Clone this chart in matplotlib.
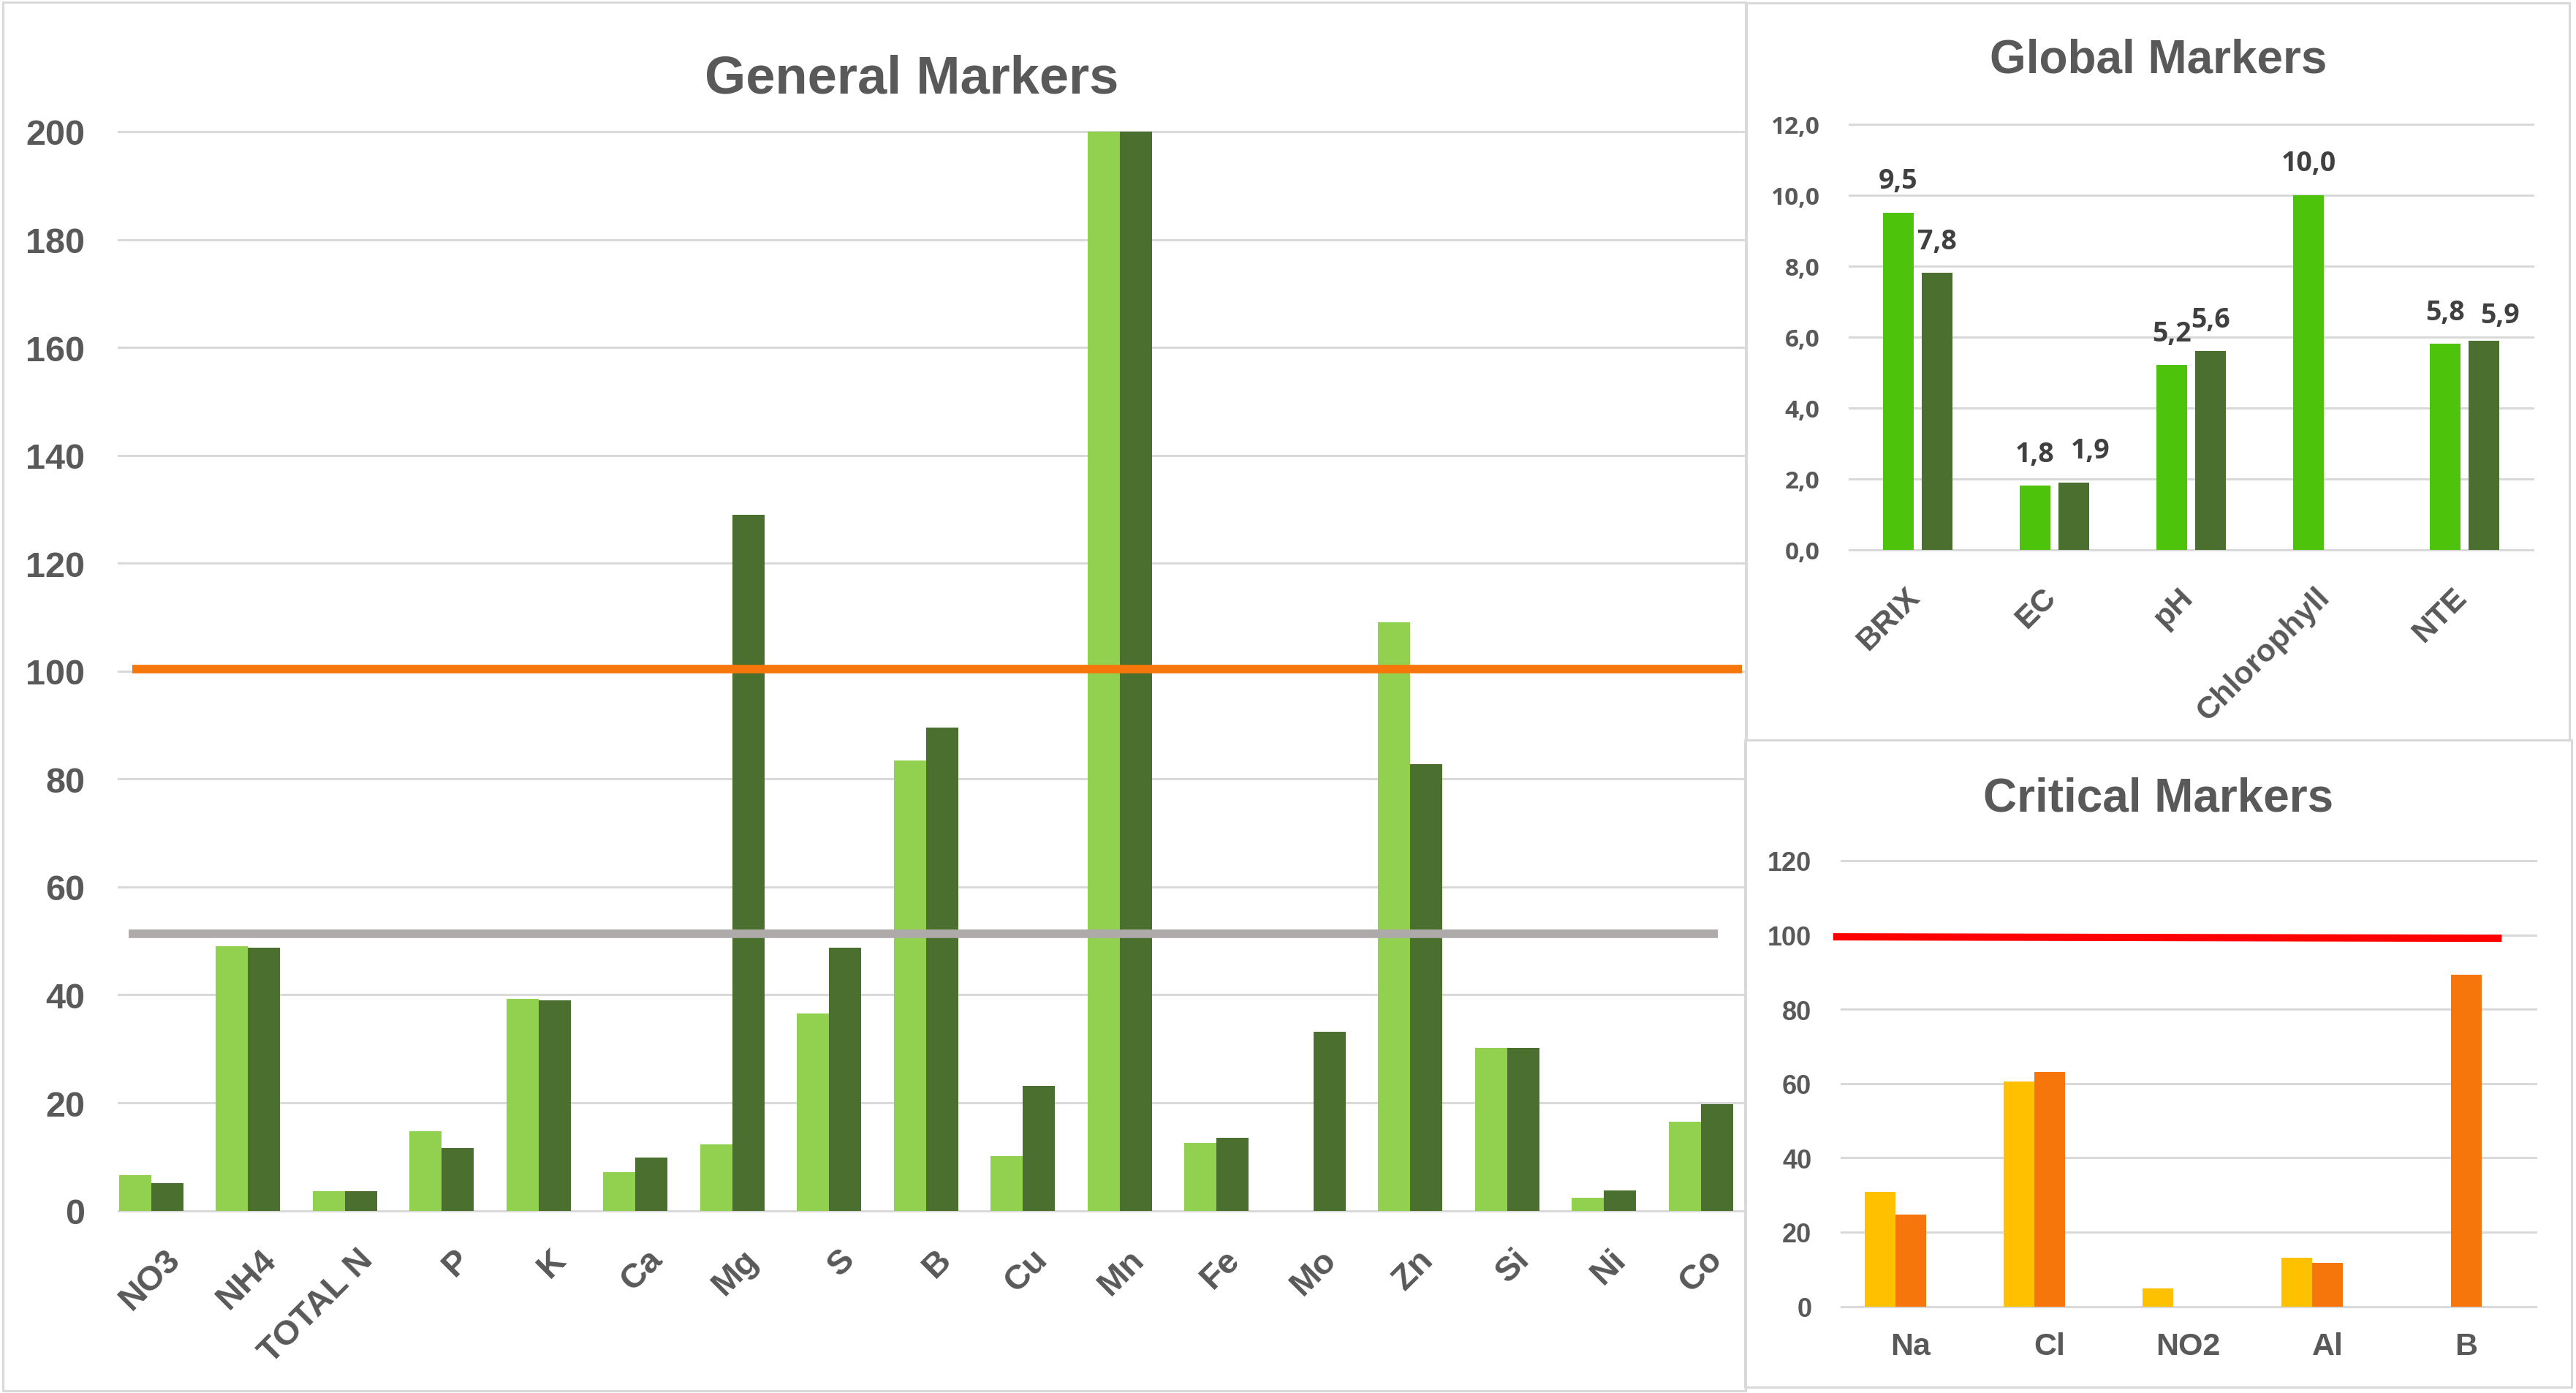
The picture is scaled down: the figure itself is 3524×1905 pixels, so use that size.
import numpy as np
import matplotlib.pyplot as plt
from matplotlib.patches import Rectangle

plt.rcParams['font.family'] = ['Liberation Sans', 'DejaVu Sans']
plt.rcParams['font.weight'] = 'bold'

W, H = 3524, 1906

# General Markers data
gen_cats = ["NO3", "NH4", "TOTAL N", "P", "K", "Ca", "Mg", "S", "B", "Cu",
            "Mn", "Fe", "Mo", "Zn", "Si", "Ni", "Co"]
gen_a = [6.6, 49.0, 3.6, 14.7, 39.3, 7.1, 12.3, 36.6, 83.4, 10.1,
         230, 12.5, 0, 109.0, 30.2, 2.4, 16.5]
gen_b = [5.1, 48.7, 3.6, 11.6, 39.0, 9.8, 129.0, 48.7, 89.6, 23.1,
         230, 13.5, 33.2, 82.7, 30.2, 3.8, 19.8]
gen_upper = 100.4
gen_lower = 51.3
gen_ticks = [0, 20, 40, 60, 80, 100, 120, 140, 160, 180, 200]

# Global Markers data
glob_cats = ["BRIX", "EC", "pH", "Chlorophyll", "NTE"]
glob_a = [9.5, 1.8, 5.2, 10.0, 5.8]
glob_b = [7.8, 1.9, 5.6, np.nan, 5.9]
glob_ticks = [0, 2, 4, 6, 8, 10, 12]

# Critical Markers data
crit_cats = ["Na", "Cl", "NO2", "Al", "B"]
crit_a = [30.8, 60.5, 4.8, 13.1, 0]
crit_b = [24.7, 63.1, 0, 11.7, 89.2]
crit_limit = [99.5, 99.1]
crit_ticks = [0, 20, 40, 60, 80, 100, 120]

TXT = '#595959'
LBL = '#404040'
GRID = '#D9D9D9'
LIGHT = '#92D050'
DARK = '#4A6F2F'
BRIGHT = '#4DC30B'
YEL = '#FFC000'
ORG = '#F7760B'
NUMFONT = ['Open Sans', 'DejaVu Sans']


def px_axes(fig, l, t, r, b):
    return fig.add_axes([l / W, 1 - b / H, (r - l) / W, (b - t) / H])


def frame(fig, l, t, r, b):
    fig.patches.append(Rectangle((l / W, 1 - b / H), (r - l) / W, (b - t) / H,
                                 transform=fig.transFigure, fill=False,
                                 edgecolor=GRID, lw=2.2))


def style(ax, ticks):
    for s in ax.spines.values():
        s.set_visible(False)
    ax.set_yticks(ticks)
    for t in ticks:
        ax.axhline(t, color=GRID, lw=2.2, zorder=0, clip_on=False)
    ax.tick_params(length=0)
    ax.set_xticks([])


fig = plt.figure(figsize=(W / 100, H / 100), dpi=100)
frame(fig, 4, 4, 2388, 1903)
frame(fig, 2389, 5, 3515, 1013)
frame(fig, 2387, 1013, 3518, 1898)

# ---- General Markers ----
ax = px_axes(fig, 162, 181, 2387, 1656.6)
x = np.arange(len(gen_cats))
ax.bar(x - 0.166, gen_a, 0.332, color=LIGHT, zorder=2)
ax.bar(x + 0.166, gen_b, 0.332, color=DARK, zorder=2)
ax.set_xlim(-0.337, 16.456)
ax.set_ylim(0, 200)
style(ax, gen_ticks)
ax.plot([-0.195, 16.426], [gen_upper, gen_upper], color=ORG, lw=8.4,
        solid_capstyle='butt', zorder=3)
ax.plot([-0.231, 16.18], [gen_lower, gen_lower], color='#AEAAAA', lw=8.4,
        solid_capstyle='butt', zorder=3)
ax.set_yticklabels([str(t) for t in gen_ticks], fontsize=35, color=TXT)
ax.tick_params(axis='y', pad=33)
for i, c in enumerate(gen_cats):
    ax.annotate(c, (0.25 + 0.995 * i, 0), xycoords=('data', 'axes fraction'),
                xytext=(0, -43), textcoords='offset points', rotation=45,
                rotation_mode='anchor', ha='right', va='center',
                fontsize=34, color=TXT)
fig.text(1247 / W, 1 - 127 / H, "General Markers", ha='center', va='baseline',
         fontsize=52, color=TXT)

# ---- Global Markers ----
ax = px_axes(fig, 2530, 170.5, 3465, 752.8)
x = np.arange(len(glob_cats))
ax.bar(x - 0.142, glob_a, 0.22, color=BRIGHT, zorder=2)
ax.bar(x + 0.142, glob_b, 0.22, color=DARK, zorder=2)
ax.set_xlim(-0.5, 4.5)
ax.set_ylim(0, 12)
style(ax, glob_ticks)
ax.set_yticklabels([f"{t:.1f}".replace('.', ',') for t in glob_ticks],
                   fontsize=24, color=TXT, family=NUMFONT, fontweight='bold')
ax.tick_params(axis='y', pad=29)
shift = {(1, 1): (16, 24), (4, 1): (16, 18)}
for s, vals in enumerate([glob_a, glob_b]):
    for i, v in enumerate(vals):
        if np.isnan(v):
            continue
        dx, dy = shift.get((i, s), (0, 24))
        ax.annotate(f"{v:.1f}".replace('.', ','), (i + (s * 2 - 1) * 0.142, v),
                    xytext=(dx, dy), textcoords='offset points', ha='center',
                    va='baseline', fontsize=27, color=LBL, family=NUMFONT,
                    fontweight='bold')
for i, c in enumerate(glob_cats):
    ax.annotate(c, (i - 0.02, 0), xycoords=('data', 'axes fraction'),
                xytext=(0, -42), textcoords='offset points', rotation=45,
                rotation_mode='anchor', ha='right', va='center',
                fontsize=31, color=TXT)
fig.text(2953 / W, 1 - 99 / H, "Global Markers", ha='center', va='baseline',
         fontsize=46, color=TXT)

# ---- Critical Markers ----
ax = px_axes(fig, 2518.6, 1178, 3469, 1787.5)
x = np.arange(len(crit_cats))
ax.bar(x - 0.221, crit_a, 0.221, color=YEL, zorder=2)
ax.bar(x, crit_b, 0.221, color=ORG, zorder=2)
ax.set_xlim(-0.5, 4.5)
ax.set_ylim(0, 120)
style(ax, crit_ticks)
ax.plot([-0.557, 4.255], crit_limit, color='#FF0000', lw=7.2,
        solid_capstyle='butt', zorder=3, clip_on=False)
ax.set_yticklabels([str(t) for t in crit_ticks], fontsize=26, color=TXT)
ax.tick_params(axis='y', pad=29)
for i, c in enumerate(crit_cats):
    ax.annotate(c, (i, 0), xycoords=('data', 'axes fraction'),
                xytext=(0, -39), textcoords='offset points', ha='center',
                va='center', fontsize=31, color=TXT)
fig.text(2953 / W, 1 - 1110 / H, "Critical Markers", ha='center', va='baseline',
         fontsize=46, color=TXT)

fig.savefig('out.png', dpi=100)
